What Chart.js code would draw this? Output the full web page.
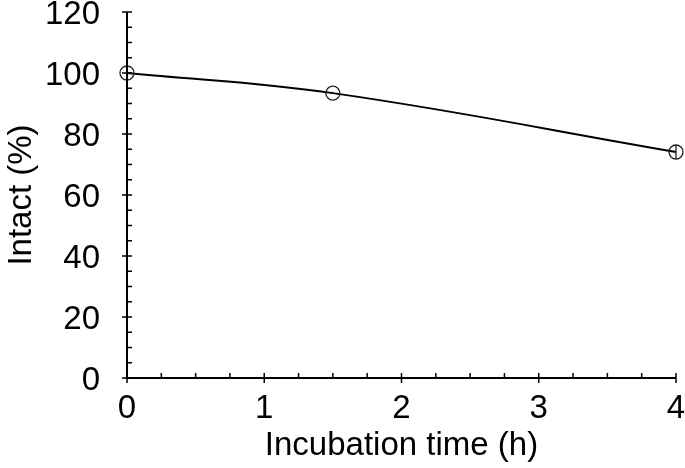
<!DOCTYPE html>
<html>
<head>
<meta charset="utf-8">
<script src="https://cdn.jsdelivr.net/npm/chart.js@4"></script>
<style>
  html, body { margin: 0; padding: 0; background: #fff; }
  #wrap { width: 685px; height: 468px; }
</style>
</head>
<body>
<div id="wrap"><canvas id="chart"></canvas></div>
<script>
const timeH = [0, 1.5, 4];
const intact = [100, 93.4, 74.1];
const intactErr = [0, 0, 2.3];
const xTicks = [0, 1, 2, 3, 4];
const yTicks = [0, 20, 40, 60, 80, 100, 120];

const font = { family: 'Liberation Sans, Arial, sans-serif', size: 33 };

// axis lines, major ticks crossing the axis, minor ticks inside, y labels, error bars
const axisPlugin = {
  id: 'axes',
  afterDraw(chart) {
    const { ctx, scales } = chart;
    const x = scales.x, y = scales.y;
    const x0 = x.getPixelForValue(0), y0 = y.getPixelForValue(0);
    ctx.save();
    ctx.strokeStyle = '#000';
    ctx.lineWidth = 2;
    ctx.beginPath();
    ctx.moveTo(x0, y.getPixelForValue(120));
    ctx.lineTo(x0, y0);
    ctx.lineTo(x.getPixelForValue(4), y0);
    ctx.stroke();
    ctx.lineWidth = 1.5;
    ctx.beginPath();
    for (let v = 0; v <= 120; v += 5) {
      const p = y.getPixelForValue(v);
      const major = v % 20 === 0;
      ctx.moveTo(major ? x0 - 5 : x0, p);
      ctx.lineTo(x0 + 5, p);
    }
    for (let v = 0; v <= 4.001; v += 0.25) {
      const p = x.getPixelForValue(v);
      const major = Math.abs(v - Math.round(v)) < 1e-6;
      ctx.moveTo(p, major ? y0 + 5 : y0);
      ctx.lineTo(p, y0 - 5);
    }
    ctx.stroke();

    ctx.lineWidth = 1.3;
    ctx.strokeStyle = '#222';
    ctx.beginPath();
    timeH.forEach((t, i) => {
      if (!intactErr[i]) return;
      const px = x.getPixelForValue(t);
      ctx.moveTo(px, y.getPixelForValue(intact[i] + intactErr[i]));
      ctx.lineTo(px, y.getPixelForValue(intact[i] - intactErr[i]));
    });
    ctx.stroke();

    ctx.fillStyle = '#000';
    ctx.font = font.size + 'px ' + font.family;
    ctx.textAlign = 'right';
    ctx.textBaseline = 'middle';
    yTicks.forEach(v => {
      ctx.fillText(String(v), 100, y.getPixelForValue(v) + 3);
    });
    ctx.restore();
  }
};

new Chart(document.getElementById('chart'), {
  type: 'scatter',
  data: {
    datasets: [
      {
        data: timeH.map((t, i) => ({ x: t, y: intact[i] })),
        showLine: true,
        borderColor: '#000',
        borderWidth: 2,
        tension: 0.4,
        pointStyle: 'circle',
        pointRadius: 7,
        pointBorderWidth: 1.3,
        pointBorderColor: '#222',
        pointBackgroundColor: 'rgba(0,0,0,0)'
      }
    ]
  },
  options: {
    responsive: true,
    maintainAspectRatio: false,
    animation: false,
    clip: false,
    layout: { padding: { left: 0, right: 9, top: 12, bottom: 0 } },
    plugins: { legend: { display: false }, tooltip: { enabled: false } },
    scales: {
      x: {
        type: 'linear',
        min: 0,
        max: 4,
        afterFit: s => {
          s.height = 90;
          s.paddingLeft = 0;
          s.paddingRight = 0;
        },
        afterBuildTicks: s => { s.ticks = xTicks.map(v => ({ value: v })); },
        grid: { display: false, drawTicks: false },
        border: { display: false },
        ticks: { color: '#000', font: font, padding: 11, maxRotation: 0 },
        title: {
          display: true,
          text: 'Incubation time (h)',
          color: '#000',
          font: font,
          padding: { top: 0, bottom: 2 }
        }
      },
      y: {
        min: 0,
        max: 120,
        afterFit: s => {
          s.width = 127;
          s.paddingTop = 0;
          s.paddingBottom = 0;
        },
        afterBuildTicks: s => { s.ticks = yTicks.map(v => ({ value: v })); },
        grid: { display: false, drawTicks: false },
        border: { display: false },
        ticks: { display: false },
        title: {
          display: true,
          text: 'Intact (%)',
          color: '#000',
          font: font,
          padding: { top: 2, bottom: 0 }
        }
      }
    }
  },
  plugins: [axisPlugin]
});
</script>
</body>
</html>
